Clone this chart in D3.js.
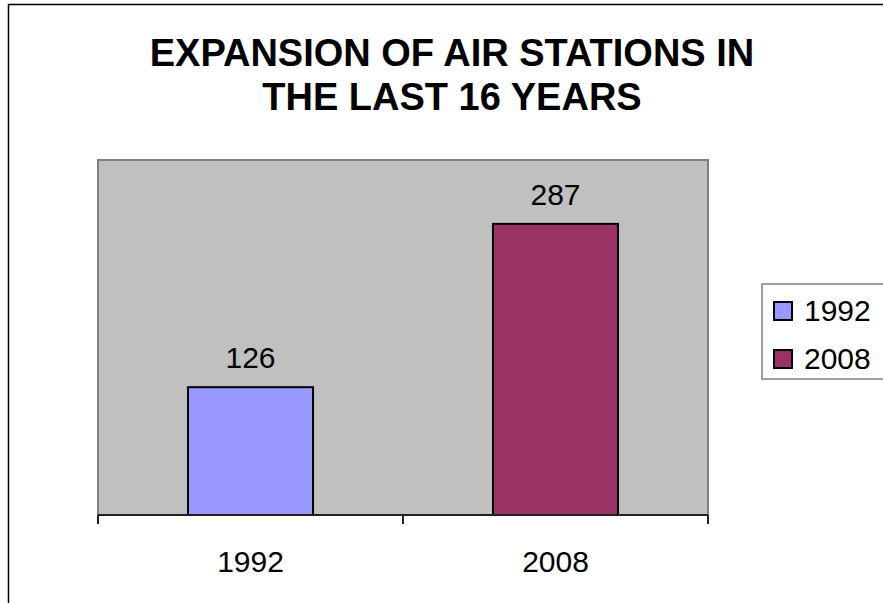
<!DOCTYPE html>
<html>
<head>
<meta charset="utf-8">
<script src="https://cdn.jsdelivr.net/npm/d3@7"></script>
<style>
  html, body { margin: 0; padding: 0; background: #fff; }
  svg { display: block; font-family: "Liberation Sans", Arial, sans-serif; }
</style>
</head>
<body>
<svg id="chart" width="883" height="603"></svg>
<script>
// Air stations counted in each year
const years = ["1992", "2008"];
const stations = [126, 287];
const colors = ["#9999FF", "#993366"];
const titleLines = ["EXPANSION OF AIR STATIONS IN", "THE LAST 16 YEARS"];

const svg = d3.select("#chart");

// outer chart frame
svg.append("rect")
  .attr("x", 8.5).attr("y", 4.5)
  .attr("width", 900).attr("height", 620)
  .attr("fill", "#fff").attr("stroke", "#000").attr("stroke-width", 1.5);

// title
svg.append("text")
  .attr("text-anchor", "middle")
  .attr("font-weight", "bold")
  .attr("font-size", 38)
  .selectAll("tspan")
  .data(titleLines)
  .join("tspan")
  .attr("x", 452)
  .attr("y", (d, i) => 66 + i * 44)
  .text(d => d);

// plot area
const plot = { left: 98, right: 708, top: 160, bottom: 515 };

const x = d3.scaleBand()
  .domain(years)
  .range([plot.left, plot.right])
  .paddingInner(0.59)
  .paddingOuter(0.295);

const y = d3.scaleLinear()
  .domain([0, 350])
  .range([plot.bottom, plot.top]);

svg.append("rect")
  .attr("x", plot.left).attr("y", plot.top)
  .attr("width", plot.right - plot.left)
  .attr("height", plot.bottom - plot.top)
  .attr("fill", "#C0C0C0")
  .attr("stroke", "#808080").attr("stroke-width", 2);

// bars
svg.append("g")
  .selectAll("rect")
  .data(years)
  .join("rect")
  .attr("x", d => x(d))
  .attr("y", (d, i) => y(stations[i]))
  .attr("width", x.bandwidth())
  .attr("height", (d, i) => y(0) - y(stations[i]))
  .attr("fill", (d, i) => colors[i])
  .attr("stroke", "#000").attr("stroke-width", 2);

// value labels
svg.append("g")
  .selectAll("text")
  .data(years)
  .join("text")
  .attr("x", d => x(d) + x.bandwidth() / 2)
  .attr("y", (d, i) => y(stations[i]) - 19)
  .attr("text-anchor", "middle")
  .attr("font-size", 30)
  .text((d, i) => stations[i]);

// category axis with ticks between categories
const axisScale = d3.scalePoint().domain([0, 1, 2]).range([plot.left, plot.right]);
const axis = svg.append("g").attr("transform", `translate(0,${plot.bottom})`);
axis.append("line")
  .attr("x1", plot.left).attr("x2", plot.right)
  .attr("stroke", "#222").attr("stroke-width", 2);
axis.selectAll("line.tick")
  .data(axisScale.domain())
  .join("line")
  .attr("class", "tick")
  .attr("x1", d => axisScale(d)).attr("x2", d => axisScale(d))
  .attr("y1", 0).attr("y2", 9)
  .attr("stroke", "#222").attr("stroke-width", 2);
axis.selectAll("text")
  .data(years)
  .join("text")
  .attr("x", d => x(d) + x.bandwidth() / 2)
  .attr("y", 57)
  .attr("text-anchor", "middle")
  .attr("font-size", 30)
  .text(d => d);

// legend
const legend = svg.append("g");
legend.append("rect")
  .attr("x", 762).attr("y", 284)
  .attr("width", 140).attr("height", 95)
  .attr("fill", "#fff")
  .attr("stroke", "#808080").attr("stroke-width", 1.5);
const items = legend.selectAll("g.item")
  .data(years)
  .join("g")
  .attr("class", "item")
  .attr("transform", (d, i) => `translate(774,${302 + i * 48})`);
items.append("rect")
  .attr("width", 18).attr("height", 18)
  .attr("fill", (d, i) => colors[i])
  .attr("stroke", "#000").attr("stroke-width", 2);
items.append("text")
  .attr("x", 30).attr("y", 19)
  .attr("font-size", 30)
  .text(d => d);
</script>
</body>
</html>
